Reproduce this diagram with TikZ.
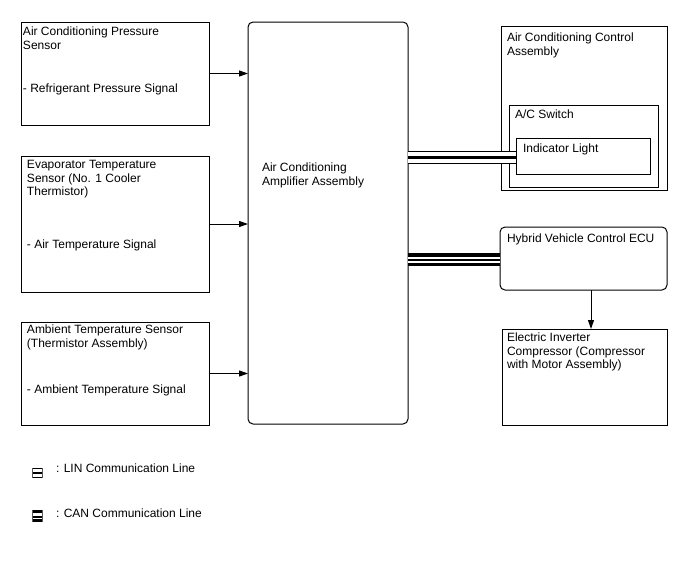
\documentclass[tikz,border=0pt]{standalone}
\usepackage{fontspec}
\setmainfont{Liberation Sans}
\usetikzlibrary{arrows.meta}
\tikzset{
 box/.style={draw, line width=1pt, inner sep=0pt, outer sep=0pt, anchor=north west},
 rbox/.style={box, rounded corners=5pt},
 txt/.style={inner sep=0pt, outer sep=0pt, anchor=north west, align=left, font=\fontsize{12}{13.5}\selectfont},
 ln/.style={inner sep=0pt, outer sep=0pt, anchor=base west, font=\fontsize{12}{13.5}\selectfont},
 arr/.style={line width=1pt, -{Triangle[length=9pt,width=6pt]}},
 legside/.style={black!65, line width=0.8pt},
}
\begin{document}
\begin{tikzpicture}[x=1pt,y=-1pt]
\useasboundingbox[fill=white] (0,0) rectangle (688,560);
% boxes
\node[box, minimum width=188pt, minimum height=103pt] (s1) at (21,22) {};
\node[box, minimum width=188pt, minimum height=136pt] (s2) at (21,156) {};
\node[box, minimum width=188pt, minimum height=103pt] (s3) at (21,322) {};
\node[rbox, minimum width=160pt, minimum height=402pt] (amp) at (248,22) {};
\node[box, minimum width=166pt, minimum height=164pt] (acc) at (501,26) {};
\node[box, minimum width=149pt, minimum height=82pt] (sw) at (509,105) {};
\node[box, minimum width=134pt, minimum height=36pt] (ind) at (516,138) {};
\node[rbox, minimum width=167pt, minimum height=63pt] (ecu) at (500,227) {};
\node[box, minimum width=165pt, minimum height=96pt] (comp) at (502,329) {};
% texts
\node[txt] (s1t) at (23,26.5) {\strut Air Conditioning Pressure\\Sensor};
\node[ln] (s1s) at (23,92) {- Refrigerant Pressure Signal};
\node[txt] (s2t) at (27,159.5) {\strut Evaporator Temperature\\Sensor (No. 1 Cooler\\Thermistor)};
\node[ln] (s2s) at (27,248) {- Air Temperature Signal};
\node[txt] (s3t) at (27,324.5) {\strut Ambient Temperature Sensor\\(Thermistor Assembly)};
\node[ln] (s3s) at (27,393) {- Ambient Temperature Signal};
\node[txt] (ampt) at (262,162.5) {\strut Air Conditioning\\Amplifier Assembly};
\node[txt] (acct) at (507,32.5) {\strut Air Conditioning Control\\Assembly};
\node[ln] (swt) at (515,118) {A/C Switch};
\node[ln] (indt) at (523,152) {Indicator Light};
\node[ln] (ecut) at (507,242) {Hybrid Vehicle Control ECU};
\node[txt] (compt) at (507,332.5) {\strut Electric Inverter\\Compressor (Compressor\\with Motor Assembly)};
% arrows
\draw[arr] (s1.east) -- (s1.east -| amp.west);
\draw[arr] (s2.east) -- (s2.east -| amp.west);
\draw[arr] (s3.east) -- (s3.east -| amp.west);
\draw[arr] ([xshift=7.5pt]ecu.south) -- ([xshift=7.5pt]ecu.south |- comp.north);
% LIN line
\coordinate (linA) at ([yshift=-1.5pt]ind.west -| amp.east);
\coordinate (linB) at ([yshift=-1.5pt]ind.west);
\draw[line width=13pt] (linA) -- (linB);
\draw[white, line width=10.4pt] (linA) -- (linB);
\draw[line width=3pt] (linA) -- (linB);
% CAN line
\coordinate (canA) at ([yshift=-1pt]ecu.west -| amp.east);
\coordinate (canB) at ([yshift=-1pt]ecu.west);
\draw[line width=13pt] (canA) -- (canB);
\draw[white, line width=2pt] ([yshift=1.5pt]canA) -- ([yshift=1.5pt]canB);
\draw[white, line width=2pt] ([yshift=-2.5pt]canA) -- ([yshift=-2.5pt]canB);
% legend
\fill[black] (32,468) rectangle (42,478);
\fill[white] (32,469.3) rectangle (42,476.7);
\fill[black] (32,471.7) rectangle (42,474);
\draw[legside] (32,468) -- (32,478) (42,468) -- (42,478);
\node[ln] (lint) at (56,472) {: LIN Communication Line};
\fill[black] (32,510) rectangle (42,522);
\fill[white] (32,513.3) rectangle (42,515.8);
\fill[white] (32,517.5) rectangle (42,519.3);
\draw[legside] (32,510) -- (32,522) (42,510) -- (42,522);
\node[ln] (cant) at (56,517) {: CAN Communication Line};
\end{tikzpicture}
\end{document}
